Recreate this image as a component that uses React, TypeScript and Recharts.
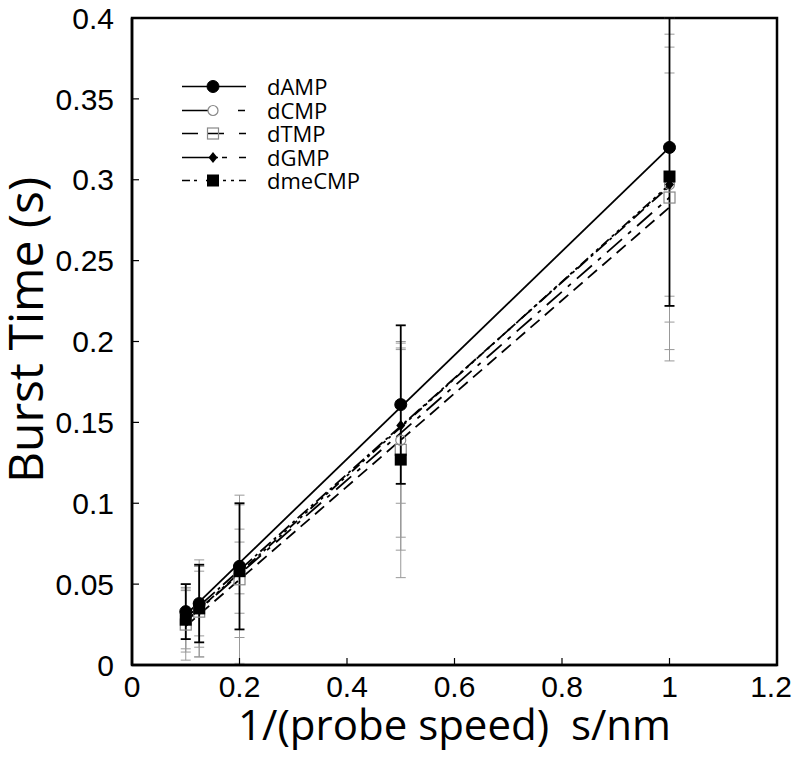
import React from 'react';
import { ComposedChart, Scatter, XAxis, YAxis, ErrorBar, ReferenceArea, Legend, Label } from 'recharts';

// 1/(probe speed) values (s/nm)
const speeds = [0.1, 0.125, 0.2, 0.5, 1.0];

// Burst times (s) and error bars
const dAMP = [0.033, 0.038, 0.061, 0.161, 0.320];
const dAMPErr = [0.017, 0.024, 0.039, 0.049, 0.098];
const dCMP = [0.030, 0.036, 0.058, 0.139, 0.297];
const dCMPErr = [0.020, 0.025, 0.026, 0.060, 0.085];
const dTMP = [0.025, 0.033, 0.053, 0.133, 0.289];
const dTMPErr = [0.022, 0.028, 0.052, 0.062, 0.101];
const dGMP = [0.031, 0.038, 0.060, 0.148, 0.297];
const dGMPErr = [0.015, 0.020, 0.016, 0.048, 0.069];
const dmeCMP = [0.028, 0.035, 0.058, 0.127, 0.302];
const dmeCMPErr = [0.020, 0.030, 0.041, 0.073, 0.107];

// Linear fit lines (endpoints)
const fitX = [0.1, 1.0];
const dAMPFit = [0.031, 0.320];
const dCMPFit = [0.027, 0.289];
const dTMPFit = [0.024, 0.283];
const dGMPFit = [0.029, 0.296];
const dmeCMPFit = [0.027, 0.297];

const xTicks = [0, 0.2, 0.4, 0.6, 0.8, 1, 1.2];
const yTicks = [0, 0.05, 0.1, 0.15, 0.2, 0.25, 0.3, 0.35, 0.4];
const yMax = 0.4;

// error bars are clipped to the visible axis range, like the original plot
const toPts = (ys: number[], errs: number[]) =>
  speeds.map((x, i) => ({
    x,
    y: ys[i],
    e: [Math.min(errs[i], ys[i]), Math.min(errs[i], yMax - ys[i])],
  }));
const toFit = (ys: number[]) => fitX.map((x, i) => ({ x, y: ys[i] }));

type MarkerKind = 'filledCircle' | 'openCircle' | 'openSquare' | 'diamond' | 'filledSquare';

const Marker = ({ kind, cx, cy }: { kind: MarkerKind; cx: number; cy: number }) => {
  switch (kind) {
    case 'filledCircle':
      return <circle cx={cx} cy={cy} r={6} fill="#000" stroke="#000" />;
    case 'openCircle':
      return <circle cx={cx} cy={cy} r={5} fill="none" stroke="#888" strokeWidth={1.2} />;
    case 'openSquare':
      return <rect x={cx - 5.5} y={cy - 5.5} width={11} height={11} fill="none" stroke="#888" strokeWidth={1.2} />;
    case 'diamond':
      return <polygon points={`${cx},${cy - 5.5} ${cx + 4.5},${cy} ${cx},${cy + 5.5} ${cx - 4.5},${cy}`} fill="#000" />;
    case 'filledSquare':
      return <rect x={cx - 6} y={cy - 6} width={12} height={12} fill="#000" />;
  }
  return null;
};

const series = [
  { name: 'dAMP', ys: dAMP, errs: dAMPErr, fit: dAMPFit, marker: 'filledCircle' as MarkerKind, dash: undefined as string | undefined, legendDash: undefined as string | undefined, errColor: '#000', errW: 1.8 },
  { name: 'dCMP', ys: dCMP, errs: dCMPErr, fit: dCMPFit, marker: 'openCircle' as MarkerKind, dash: '20 8 4 8', legendDash: '26 30 7', errColor: '#999', errW: 1 },
  { name: 'dTMP', ys: dTMP, errs: dTMPErr, fit: dTMPFit, marker: 'openSquare' as MarkerKind, dash: '12 7', legendDash: '16 9 17 15 7', errColor: '#999', errW: 1 },
  { name: 'dGMP', ys: dGMP, errs: dGMPErr, fit: dGMPFit, marker: 'diamond' as MarkerKind, dash: '14 4 3 4', legendDash: '36 4 5 12 7', errColor: '#999', errW: 1 },
  { name: 'dmeCMP', ys: dmeCMP, errs: dmeCMPErr, fit: dmeCMPFit, marker: 'filledSquare' as MarkerKind, dash: '10 4 3 4 3 4', legendDash: '8 4 3 9 12 5 3 5 3 5 7', errColor: '#999', errW: 1 },
];

const LegendBox = () => (
  <div style={{ fontFamily: 'Open Sans', fontSize: 22, color: '#000' }}>
    {series.map((s) => (
      <div key={s.name} style={{ display: 'flex', alignItems: 'center', height: 23.5 }}>
        <svg width={64} height={23} style={{ display: 'block' }}>
          <line x1={0} x2={64} y1={11.5} y2={11.5} stroke="#000" strokeWidth={1.6} strokeDasharray={s.legendDash} />
          <Marker kind={s.marker} cx={31} cy={11.5} />
        </svg>
        <span style={{ marginLeft: 21, lineHeight: '23px' }}>{s.name}</span>
      </div>
    ))}
  </div>
);

const YTitle = () => (
  <text
    x={43}
    y={330}
    transform="rotate(-90 43 330)"
    textAnchor="middle"
    fontSize={48}
    fontFamily="Open Sans"
    fill="#000"
  >
    Burst Time (s)
  </text>
);

const XTick = (props: any) => {
  const { x, y, payload } = props;
  const last = payload.value === xTicks[xTicks.length - 1];
  return (
    <text
      x={x}
      y={y}
      dx={last ? -6 : 0}
      dy="0.71em"
      textAnchor="middle"
      fontSize={30}
      fontFamily="Liberation Sans"
      fill="#000"
    >
      {String(payload.value)}
    </text>
  );
};

export default function App() {
  const drawOrder = [...series.slice(1), series[0]];
  return (
    <div style={{ marginLeft: -8, marginTop: -8, width: 800, height: 757 }}>
      <ComposedChart width={800} height={757} margin={{ top: 18, right: 23, bottom: 8, left: 0 }}>
        <XAxis
          type="number"
          dataKey="x"
          domain={[0, 1.2]}
          ticks={xTicks}
          interval={0}
          allowDataOverflow
          height={84}
          tickSize={-7}
          tickMargin={18}
          axisLine={{ stroke: '#000', strokeWidth: 2.5 }}
          tickLine={{ stroke: '#000', strokeWidth: 1.2 }}
          tick={XTick}
        >
          <Label
            value={'1/(probe speed)\u00a0\u00a0s/nm'}
            position="insideBottom"
            offset={9}
            style={{ fontSize: 42, fontFamily: 'Open Sans', fill: '#000' }}
          />
        </XAxis>
        <YAxis
          type="number"
          dataKey="y"
          domain={[0, 0.4]}
          ticks={yTicks}
          interval={0}
          allowDataOverflow
          width={132}
          tickSize={-7}
          tickMargin={25}
          axisLine={{ stroke: '#000', strokeWidth: 2.5 }}
          tickLine={{ stroke: '#000', strokeWidth: 1.2 }}
          tick={{ fontSize: 30, fill: '#000', fontFamily: 'Liberation Sans' }}
        >
          <Label content={() => <YTitle />} />
        </YAxis>
        <ReferenceArea x1={0} x2={1.2} y1={0} y2={0.4} fill="none" stroke="#000" strokeWidth={2.5} ifOverflow="visible" />
        {series.map((s) => (
          <Scatter
            key={s.name + '-fit'}
            name={s.name + ' fit'}
            data={toFit(s.fit)}
            line={{ stroke: '#000', strokeWidth: 1.8, strokeDasharray: s.dash }}
            shape={() => <g />}
            legendType="none"
            isAnimationActive={false}
          />
        ))}
        {drawOrder.map((s) => (
          <Scatter
            key={s.name}
            name={s.name}
            data={toPts(s.ys, s.errs)}
            shape={(p: any) => <Marker kind={s.marker} cx={p.cx} cy={p.cy} />}
            isAnimationActive={false}
          >
            <ErrorBar dataKey="e" direction="y" width={5} stroke={s.errColor} strokeWidth={s.errW} isAnimationActive={false} />
          </Scatter>
        ))}
        <Legend
          layout="vertical"
          align="center"
          verticalAlign="middle"
          content={() => <LegendBox />}
          wrapperStyle={{ position: 'absolute', left: 182, top: 75, width: 200 }}
        />
      </ComposedChart>
    </div>
  );
}
